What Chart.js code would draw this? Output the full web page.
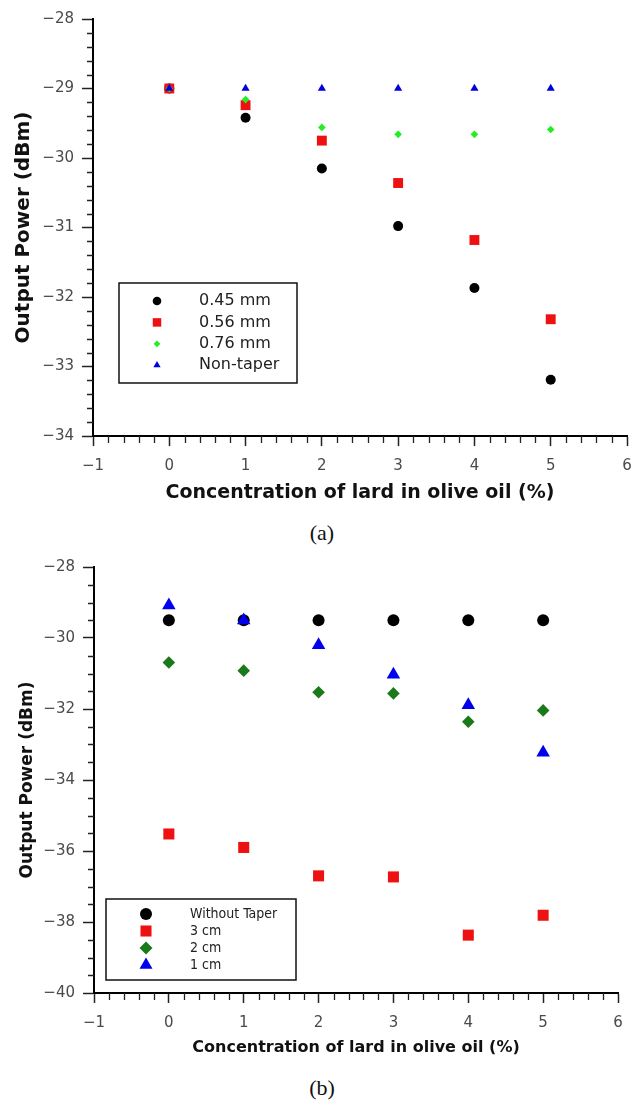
<!DOCTYPE html>
<html><head><meta charset="utf-8">
<script src="https://cdn.jsdelivr.net/npm/chart.js@4.4.1/dist/chart.umd.min.js"></script>
<style>
html,body{margin:0;padding:0;background:#fff;}
body{width:644px;height:1100px;position:relative;overflow:hidden;}
canvas{position:absolute;left:0;}
.cap{position:absolute;left:0;width:644px;text-align:center;font-family:"Liberation Serif","Times New Roman",serif;font-size:22px;line-height:24px;color:#111;}
</style></head><body>
<canvas id="ca" width="644" height="520" style="top:0"></canvas>
<div class="cap" style="top:521px">(a)</div>
<canvas id="cb" width="644" height="530" style="top:540px"></canvas>
<div class="cap" style="top:1076px">(b)</div>
<script>
// ---- data ----
const concentration = [0, 1, 2, 3, 4, 5];
const xTicks = [-1, 0, 1, 2, 3, 4, 5, 6];
const yTicksA = [-34, -33, -32, -31, -30, -29, -28];
const yTicksB = [-40, -38, -36, -34, -32, -30, -28];

const seriesNamesA = ['0.45 mm', '0.56 mm', '0.76 mm', 'Non-taper'];
const taper045 = [-29.0, -29.42, -30.15, -30.98, -31.87, -33.19];
const taper056 = [-29.0, -29.24, -29.75, -30.36, -31.18, -32.32];
const taper076 = [-29.0, -29.16, -29.56, -29.66, -29.66, -29.59];
const nonTaper = [-29.0, -29.0, -29.0, -29.0, -29.0, -29.0];

const seriesNamesB = ['Without Taper', '3 cm', '2 cm', '1 cm'];
const withoutTaper = [-29.5, -29.5, -29.5, -29.5, -29.5, -29.5];
const len3cm = [-35.52, -35.9, -36.7, -36.73, -38.37, -37.81];
const len2cm = [-30.69, -30.92, -31.53, -31.56, -32.36, -32.04];
const len1cm = [-29.08, -29.5, -30.2, -31.03, -31.89, -33.23];

// ---- helpers ----
const FONT = "'DejaVu Sans', 'Noto Sans', sans-serif";
const toPts = arr => concentration.map((x, i) => ({x: x, y: arr[i]}));
const fmt = v => (v < 0 ? '\u2212' : '') + Math.abs(v);

function drawMarker(ctx, style, x, y, r, color) {
  ctx.save();
  ctx.fillStyle = color;
  ctx.beginPath();
  if (style === 'circle') {
    ctx.arc(x, y, r, 0, Math.PI * 2);
  } else if (style === 'rect') {
    const s = Math.SQRT1_2 * r;
    ctx.rect(x - s, y - s, 2 * s, 2 * s);
  } else if (style === 'rectRot') {
    ctx.moveTo(x, y - r); ctx.lineTo(x + r, y); ctx.lineTo(x, y + r); ctx.lineTo(x - r, y);
  } else if (style === 'triangle') {
    let a = 0;
    ctx.moveTo(x + Math.sin(a) * r, y - Math.cos(a) * r);
    a += 2 * Math.PI / 3;
    ctx.lineTo(x + Math.sin(a) * r, y - Math.cos(a) * r);
    a += 2 * Math.PI / 3;
    ctx.lineTo(x + Math.sin(a) * r, y - Math.cos(a) * r);
  }
  ctx.closePath();
  ctx.fill();
  ctx.restore();
}

function minorTickPlugin(xStep, yStep, xLen, yLen) {
  return {
    id: 'minorTicks',
    afterDraw(chart) {
      const ctx = chart.ctx, xs = chart.scales.x, ys = chart.scales.y, ca = chart.chartArea;
      ctx.save();
      ctx.strokeStyle = '#222';
      ctx.lineWidth = 1.3;
      ctx.beginPath();
      for (let v = xs.min; v <= xs.max + 1e-9; v += xStep) {
        if (Math.abs(v - Math.round(v)) < 1e-6) continue;
        const px = Math.round(xs.getPixelForValue(v)) + 0.5;
        ctx.moveTo(px, ca.bottom); ctx.lineTo(px, ca.bottom + xLen);
      }
      const major = ys.options.ticks.stepSize;
      for (let v = ys.min; v <= ys.max + 1e-9; v += yStep) {
        const q = (v - ys.min) / major;
        if (Math.abs(q - Math.round(q)) < 1e-6) continue;
        const py = Math.round(ys.getPixelForValue(v)) + 0.5;
        ctx.moveTo(ca.left - yLen, py); ctx.lineTo(ca.left, py);
      }
      ctx.stroke();
      ctx.restore();
    }
  };
}

function legendPlugin(box, entries, fontSize, fontFamily) {
  return {
    id: 'boxLegend',
    afterDraw(chart) {
      const ctx = chart.ctx;
      ctx.save();
      ctx.fillStyle = '#fff';
      ctx.fillRect(box.x, box.y, box.w, box.h);
      ctx.strokeStyle = '#111';
      ctx.lineWidth = 1.5;
      ctx.strokeRect(box.x, box.y, box.w, box.h);
      ctx.font = fontSize + 'px ' + fontFamily;
      ctx.textBaseline = 'middle';
      entries.forEach((e, i) => {
        const y = box.rowY + i * box.rowH;
        drawMarker(ctx, e.style, box.markX, y, e.r, e.color);
        ctx.fillStyle = '#222';
        ctx.fillText(e.label, box.textX, y);
      });
      ctx.restore();
    }
  };
}

function makeOptions(cfg) {
  return {
    responsive: false,
    animation: false,
    devicePixelRatio: 1,
    events: [],
    layout: {padding: cfg.padding},
    plugins: {legend: {display: false}, tooltip: {enabled: false}},
    scales: {
      x: {
        type: 'linear', min: -1, max: 6,
        afterFit: s => { s.height = cfg.xHeight; },
        afterBuildTicks: s => { s.ticks = xTicks.map(v => ({value: v})); },
        border: {display: true, color: '#000', width: 2},
        grid: {display: true, drawOnChartArea: false, drawTicks: true, tickLength: 10, tickColor: '#222', tickWidth: 1.5},
        ticks: {autoSkip: false, maxRotation: 0, padding: cfg.xPad, color: '#4a4a4a', font: {family: FONT, size: 15}, callback: fmt},
        title: {display: true, text: 'Concentration of lard in olive oil (%)', color: '#111',
                font: {family: FONT, size: cfg.xTitleSize, weight: 'bold'}, padding: {top: 0, bottom: cfg.xTitlePad}}
      },
      y: {
        type: 'linear', min: cfg.yMin, max: -28,
        afterFit: s => { s.width = cfg.yWidth; },
        afterBuildTicks: s => { s.ticks = cfg.yTicks.map(v => ({value: v})); },
        border: {display: true, color: '#000', width: 2},
        grid: {display: true, drawOnChartArea: false, drawTicks: true, tickLength: 11, tickColor: '#222', tickWidth: 1.5},
        ticks: {autoSkip: false, stepSize: cfg.yStep, padding: 8, color: '#4a4a4a', font: {family: FONT, size: 15}, callback: fmt},
        title: {display: true, text: 'Output Power (dBm)', color: '#111',
                font: {family: FONT, size: cfg.yTitleSize, weight: 'bold'}, padding: {top: cfg.yTitlePad, bottom: 0}}
      }
    }
  };
}

// ---- chart (a) ----
const colA = ['#000000', '#ee1111', '#22ee22', '#0000dd'];
const styA = ['circle', 'rect', 'rectRot', 'triangle'];
const radA = [5, 7, 3.8, 4.7];
const dataA = [taper045, taper056, taper076, nonTaper];
new Chart(document.getElementById('ca'), {
  type: 'scatter',
  data: {
    datasets: dataA.map((d, i) => ({
      label: seriesNamesA[i], data: toPts(d), order: 3 - i,
      pointStyle: styA[i], pointRadius: radA[i], backgroundColor: colA[i], borderWidth: 0, borderColor: colA[i]
    }))
  },
  options: makeOptions({
    padding: {left: 0, top: 19, right: 17, bottom: 14},
    xHeight: 70, yWidth: 93, yMin: -34, yTicks: yTicksA, yStep: 1,
    xPad: 11, xTitleSize: 19, xTitlePad: 2, yTitleSize: 20, yTitlePad: 12
  }),
  plugins: [
    minorTickPlugin(0.2, 0.2, 7, 6),
    legendPlugin({x: 119, y: 283, w: 178, h: 100, markX: 157, textX: 199, rowY: 301, rowH: 21.4},
      seriesNamesA.map((l, i) => ({label: l, style: styA[i], color: colA[i], r: [4.3, 6, 3.4, 4.2][i]})),
      16, FONT)
  ]
});

// ---- chart (b) ----
const colB = ['#000000', '#ee1111', '#1a7a1a', '#0000ee'];
const styB = ['circle', 'rect', 'rectRot', 'triangle'];
const radB = [6, 7.8, 6.3, 7.8];
const dataB = [withoutTaper, len3cm, len2cm, len1cm];
new Chart(document.getElementById('cb'), {
  type: 'scatter',
  data: {
    datasets: dataB.map((d, i) => ({
      label: seriesNamesB[i], data: toPts(d), order: 3 - i,
      pointStyle: styB[i], pointRadius: radB[i], backgroundColor: colB[i], borderWidth: 0, borderColor: colB[i]
    }))
  },
  options: makeOptions({
    padding: {left: 0, top: 27, right: 26, bottom: 11},
    xHeight: 66, yWidth: 94, yMin: -40, yTicks: yTicksB, yStep: 2,
    xPad: 11, xTitleSize: 16, xTitlePad: 2, yTitleSize: 17, yTitlePad: 17
  }),
  plugins: [
    minorTickPlugin(0.2, 0.5, 7, 6),
    legendPlugin({x: 106, y: 359, w: 190, h: 81, markX: 146, textX: 190, rowY: 374, rowH: 17},
      seriesNamesB.map((l, i) => ({label: l, style: styB[i], color: colB[i], r: [6, 7.8, 6.5, 7.5][i]})),
      14, "'DejaVu Sans Condensed', 'DejaVu Sans', sans-serif")
  ]
});
</script>
</body></html>
